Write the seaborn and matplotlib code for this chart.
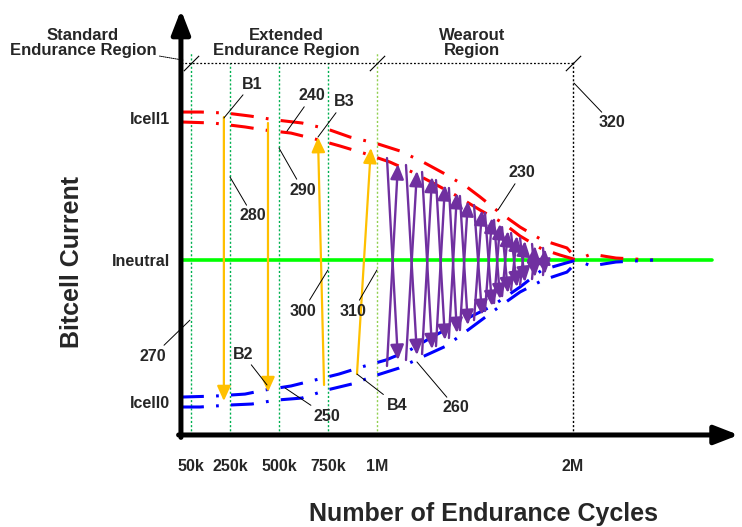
import matplotlib
matplotlib.use('Agg')
import matplotlib.pyplot as plt
import seaborn as sns

# cycles are in thousands, current is normalised (Icell1 = 1, Ineutral = 0, Icell0 = -1)
tick_cycles = [50, 250, 500, 750, 1000, 2000]
tick_labels = ['50k', '250k', '500k', '750k', '1M', '2M']
level_values = [1, 0, -1]
level_labels = ['Icell1', 'Ineutral', 'Icell0']

# upper envelope (230, outer) and (240, inner)
red_outer_x = [0, 102, 230, 352, 485, 617, 745, 862, 990, 1117, 1235, 1347, 1459,
               1526, 1622, 1730, 1842, 1969, 2020]
red_outer_y = [1.042, 1.042, 1.035, 1.014, 0.986, 0.965, 0.923, 0.866, 0.824, 0.768,
               0.690, 0.606, 0.514, 0.444, 0.338, 0.232, 0.141, 0.085, 0.007]
red_inner_x = [0, 163, 327, 429, 561, 684, 811, 929, 1066, 1179, 1286, 1408, 1526,
               1643, 1730, 1842, 1934, 2020, 2092, 2219, 2408]
red_inner_y = [0.972, 0.965, 0.937, 0.915, 0.894, 0.852, 0.803, 0.754, 0.690, 0.620,
               0.542, 0.451, 0.352, 0.261, 0.169, 0.077, 0.035, 0.0, 0.042, 0.014, 0.0]

# lower envelope (260, outer) and (250, inner)
blue_outer_x = [0, 97, 250, 362, 490, 617, 745, 872, 1000, 1112, 1230, 1352, 1464,
                1622, 1730, 1847, 1969, 2020]
blue_outer_y = [-1.035, -1.035, -1.021, -1.014, -0.986, -0.972, -0.915, -0.873, -0.810,
                -0.761, -0.683, -0.606, -0.493, -0.331, -0.225, -0.141, -0.085, -0.014]
blue_inner_x = [0, 173, 327, 429, 561, 684, 806, 939, 1046, 1168, 1281, 1423, 1587,
                1730, 1842, 1964, 2020, 2092, 2219, 2408]
blue_inner_y = [-0.965, -0.958, -0.944, -0.915, -0.887, -0.845, -0.803, -0.746, -0.704,
                -0.634, -0.542, -0.437, -0.324, -0.190, -0.070, -0.021, 0.0, -0.042,
                -0.014, 0.0]

neutral_x = [0, 2709]
neutral_y = [0, 0]

# program / erase pulses B1..B4
orange_x0 = [219, 444, 730, 898]
orange_y0 = [1.007, 0.965, -0.880, -0.803]
orange_x1 = [219, 444, 699, 969]
orange_y1 = [-0.993, -0.930, 0.866, 0.789]

# wearout zigzag
purple_x0 = [1051, 1148, 1230, 1301, 1367, 1423, 1495, 1551, 1597, 1638, 1684, 1730, 1791, 1847]
purple_x1 = [1107, 1204, 1281, 1347, 1408, 1464, 1536, 1587, 1628, 1668, 1714, 1755, 1806, 1857]
purple_top0 = [0.718, 0.669, 0.620, 0.563, 0.507, 0.451, 0.387, 0.331, 0.282, 0.232, 0.190, 0.155, 0.113, 0.085]
purple_top1 = [0.676, 0.627, 0.585, 0.528, 0.472, 0.415, 0.352, 0.296, 0.254, 0.204, 0.169, 0.134, 0.099, 0.077]
purple_bot0 = [-0.746, -0.704, -0.662, -0.606, -0.549, -0.493, -0.423, -0.359, -0.303, -0.254, -0.211, -0.176, -0.134, -0.106]
purple_bot1 = [-0.704, -0.669, -0.627, -0.563, -0.514, -0.458, -0.387, -0.324, -0.275, -0.232, -0.190, -0.155, -0.120, -0.099]

# region boundaries
boundary_x = [50, 250, 500, 750, 1000, 2000]
boundary_top = [1.458, 1.387, 1.387, 1.387, 1.458, 1.408]
boundary_colors = ['#00b050', '#00b050', '#00b050', '#00b050', '#92d050', 'black']
region_line_y = 1.387
slash_x = [50, 1000, 2000]

axis_floor = -1.232
axis_top = 1.761
axis_right = 2845

callouts = [
    ('B1', (362, 1.239), (219, 1.0)),
    ('240', (668, 1.155), (541, 0.908)),
    ('B3', (832, 1.113), (699, 0.866)),
    ('280', (367, 0.310), (250, 0.585)),
    ('290', (622, 0.493), (500, 0.789)),
    ('230', (1740, 0.613), (1617, 0.352)),
    ('320', (2199, 0.965), (2005, 1.246)),
    ('300', (622, -0.359), (750, -0.070)),
    ('310', (878, -0.359), (1000, -0.070)),
    ('270', (-143, -0.676), (46, -0.423)),
    ('B2', (316, -0.662), (439, -0.880)),
    ('250', (745, -1.099), (531, -0.901)),
    ('B4', (1102, -1.021), (898, -0.803)),
    ('260', (1403, -1.042), (1204, -0.718)),
]

sns.set_style('white')
plt.rcParams['font.family'] = ['Liberation Sans', 'DejaVu Sans']
plt.rcParams['font.weight'] = 'bold'

fig = plt.figure(figsize=(7.42, 5.27), dpi=100)
ax = fig.add_axes([0, 0, 1, 1])
ax.set_xlim(-923, 2862)
ax.set_ylim(-1.880, 1.831)
ax.spines['bottom'].set_position(('data', axis_floor))
ax.spines['left'].set_position(('data', 0))
for s in ax.spines.values():
    s.set_visible(False)

# dotted region markers
ax.vlines(boundary_x, axis_floor, boundary_top, colors=boundary_colors,
          linestyles=[(0, (1.5, 1.5))], lw=1.0, zorder=1)
ax.hlines(region_line_y, 0, 2000, colors='black', linestyles=[(0, (1.5, 1.5))], lw=0.9, zorder=1)
ax.plot(slash_x, [region_line_y] * len(slash_x), ls='none', marker=[(-1, -1), (1, 1)],
        ms=11, mew=0.8, mec='black', zorder=2)

# neutral line
sns.lineplot(x=neutral_x, y=neutral_y, ax=ax, color='#00ff00', lw=2.6, zorder=2)

# envelopes
dash_dot = (0, (7.5, 4.0, 0.9, 4.0))
for xs, ys, col in [(red_outer_x, red_outer_y, '#ff0000'),
                    (red_inner_x, red_inner_y, '#ff0000'),
                    (blue_outer_x, blue_outer_y, '#0000ff'),
                    (blue_inner_x, blue_inner_y, '#0000ff')]:
    sns.lineplot(x=xs, y=ys, ax=ax, color=col, lw=2.2, sort=False, estimator=None,
                 linestyle=dash_dot, zorder=3)

# pulses
head = '-|>,head_length=0.6,head_width=0.27'
for x0, y0, x1, y1 in zip(orange_x0, orange_y0, orange_x1, orange_y1):
    ax.annotate('', xy=(x1, y1), xytext=(x0, y0),
                arrowprops=dict(arrowstyle=head, color='#ffc000', lw=1.6,
                                mutation_scale=15, shrinkA=0, shrinkB=0), zorder=4)

for x0, x1, t0, t1, b0, b1 in zip(purple_x0, purple_x1, purple_top0, purple_top1,
                                  purple_bot0, purple_bot1):
    for start, end in [((x0, t0), (x1, b1)), ((x0, b0), (x1, t1))]:
        ax.annotate('', xy=end, xytext=start,
                    arrowprops=dict(arrowstyle=head, color='#7030a0', lw=1.7,
                                    mutation_scale=15, shrinkA=0, shrinkB=0), zorder=5)

# axes with arrow heads
axis_arrow = dict(arrowstyle='-|>,head_length=0.9,head_width=0.35', color='black',
                  lw=3.6, mutation_scale=16, shrinkA=0, shrinkB=0)
ax.annotate('', xy=(axis_right, axis_floor), xytext=(-12, axis_floor),
            arrowprops=axis_arrow, annotation_clip=False, zorder=6)
ax.annotate('', xy=(0, axis_top), xytext=(0, axis_floor - 0.017),
            arrowprops=axis_arrow, annotation_clip=False, zorder=6)

ax.set_xticks(tick_cycles, tick_labels)
ax.set_yticks(level_values, level_labels)
ax.tick_params(axis='x', direction='out', length=10.5, width=1.1, color='black',
               pad=6.5, labelsize=11.5)
ax.tick_params(axis='y', length=0, pad=8, labelsize=11.5)
ax.grid(False)

ax.set_xlabel('Number of Endurance Cycles', fontsize=18, fontweight='bold', va='center')
ax.xaxis.set_label_coords(0.651, 0.024)
ax.set_ylabel('Bitcell Current', fontsize=18, fontweight='bold', va='center')
ax.yaxis.set_label_coords(0.097, 0.503)

# region titles
ax.annotate('Standard\nEndurance Region', xy=(10, 1.408), xytext=(-500, 1.528),
            ha='center', va='center', fontsize=12, linespacing=1.05,
            arrowprops=dict(arrowstyle='-', color='black', lw=0.7, ls=(0, (1, 1)),
                            shrinkA=0, shrinkB=0), annotation_clip=False)
ax.text(536, 1.528, 'Extended\nEndurance Region', ha='center', va='center',
        fontsize=12, linespacing=1.05)
ax.text(1485, 1.528, 'Wearout\nRegion', ha='center', va='center',
        fontsize=12, linespacing=1.05)

# reference numerals
for label, txt_xy, tip_xy in callouts:
    ax.annotate(label, xy=tip_xy, xytext=txt_xy, ha='center', va='center', fontsize=11.5,
                arrowprops=dict(arrowstyle='-', color='black', lw=0.7, shrinkA=0, shrinkB=0),
                annotation_clip=False, zorder=7)

fig.savefig('out.png', dpi=100)
